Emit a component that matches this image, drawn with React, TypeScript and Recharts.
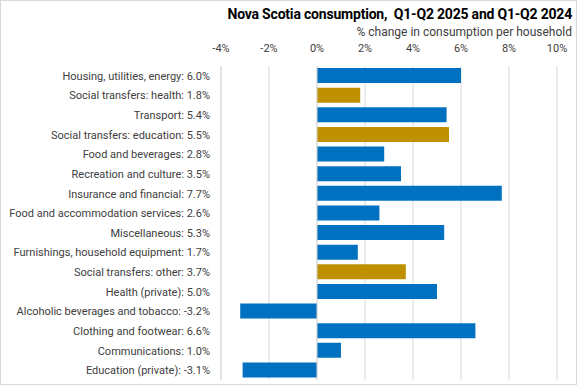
import React from "react";
import { BarChart, Bar, XAxis, YAxis, CartesianGrid, Cell, ReferenceLine } from "recharts";

const categories = [
  "Housing, utilities, energy",
  "Social transfers: health",
  "Transport",
  "Social transfers: education",
  "Food and beverages",
  "Recreation and culture",
  "Insurance and financial",
  "Food and accommodation services",
  "Miscellaneous",
  "Furnishings, household equipment",
  "Social transfers: other",
  "Health (private)",
  "Alcoholic beverages and tobacco",
  "Clothing and footwear",
  "Communications",
  "Education (private)",
];
const values = [6.0, 1.8, 5.4, 5.5, 2.8, 3.5, 7.7, 2.6, 5.3, 1.7, 3.7, 5.0, -3.2, 6.6, 1.0, -3.1];
const isSocialTransfer = [false, true, false, true, false, false, false, false, false, false, true, false, false, false, false, false];
const xTicks = [-4, -2, 0, 2, 4, 6, 8, 10];

const BLUE = "#0070C0";
const GOLD = "#BF9000";

const data = categories.map((c, i) => ({
  label: `${c}: ${values[i].toFixed(1)}%`,
  value: values[i],
  social: isSocialTransfer[i],
}));

const FONT = "Roboto, 'Open Sans', sans-serif";

const CategoryTick = (props: any) => {
  const { x, y, payload } = props;
  return (
    <text
      x={x}
      y={y}
      dy={4}
      textAnchor="end"
      fontSize={11}
      fill="#404040"
      fontFamily={FONT}
    >
      {payload.value}
    </text>
  );
};

const ValueTick = (props: any) => {
  const { x, y, payload } = props;
  return (
    <text x={x} y={y} dy={-4} textAnchor="middle" fontSize={11} fill="#404040" fontFamily={FONT}>
      {`${payload.value}%`}
    </text>
  );
};

export default function App() {
  return (
    <div
      style={{
        position: "absolute",
        top: 0,
        left: 0,
        width: 577,
        height: 385,
        background: "#fff",
        fontFamily: FONT,
      }}
    >
      <div
        style={{
          position: "absolute",
          top: 0,
          left: 0,
          width: 577,
          height: 385,
          border: "1px solid #D9D9D9",
          boxSizing: "border-box",
          pointerEvents: "none",
          zIndex: 2,
        }}
      />
      <div
        style={{
          position: "absolute",
          right: 5,
          top: 4,
          fontSize: 14,
          fontWeight: 700,
          letterSpacing: -0.2,
          color: "#000",
          whiteSpace: "pre",
          lineHeight: "20px",
        }}
      >
        {"Nova Scotia consumption,  Q1-Q2 2025 and Q1-Q2 2024"}
      </div>
      <div
        style={{
          position: "absolute",
          right: 5,
          top: 24,
          fontSize: 12,
          color: "#404040",
          whiteSpace: "pre",
          lineHeight: "16px",
        }}
      >
        % change in consumption per household
      </div>
      <BarChart
        width={577}
        height={385}
        data={data}
        layout="vertical"
        margin={{ top: 0, right: 20, bottom: 5, left: 0 }}
        barSize={15}
      >
        <CartesianGrid horizontal={false} vertical={true} stroke="#D9D9D9" />
        <XAxis
          type="number"
          orientation="top"
          domain={[-4, 10]}
          ticks={xTicks}
          height={66}
          axisLine={false}
          tickLine={false}
          tickSize={0}
          tickMargin={10}
          tick={<ValueTick />}
          interval={0}
        />
        <YAxis
          type="category"
          dataKey="label"
          width={221}
          axisLine={{ stroke: "#D9D9D9" }}
          tickLine={false}
          tickSize={0}
          tickMargin={11}
          tick={<CategoryTick />}
          interval={0}
        />
        <ReferenceLine x={0} stroke="#D9D9D9" />
        <Bar dataKey="value" isAnimationActive={false}>
          {data.map((d, i) => (
            <Cell key={i} fill={d.social ? GOLD : BLUE} />
          ))}
        </Bar>
      </BarChart>
    </div>
  );
}
